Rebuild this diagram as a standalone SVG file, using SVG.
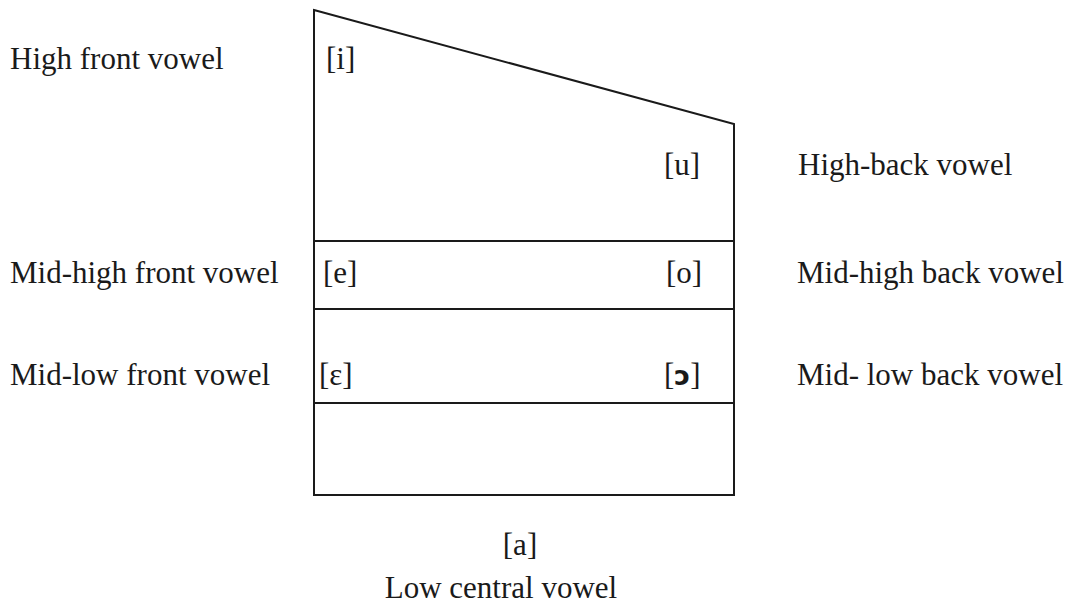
<svg xmlns="http://www.w3.org/2000/svg" width="1068" height="605" viewBox="0 0 1068 605">
<style>
.t{font-family:'Liberation Serif','DejaVu Serif',serif;font-size:31px;fill:#1a1a1a}
.ln{stroke:#1a1a1a;stroke-width:2;fill:none}
</style>
<rect width="1068" height="605" fill="#fff"/>
<g id="chart">
<path class="ln" d="M314,10 L734,124 L734,495 L314,495 Z"/>
<line class="ln" x1="314" y1="241" x2="734" y2="241"/>
<line class="ln" x1="314" y1="309" x2="734" y2="309"/>
<line class="ln" x1="314" y1="403" x2="734" y2="403"/>
</g>
<g class="t" font-family="Liberation Serif, serif">
<g id="high-front"><text x="10" y="69">High front vowel</text><text x="326" y="69">[i]</text></g>
<g id="high-back"><text x="664" y="175">[u]</text><text x="798" y="175">High-back vowel</text></g>
<g id="mid-high-front"><text x="10" y="283">Mid-high front vowel</text><text x="323" y="283">[e]</text></g>
<g id="mid-high-back"><text x="666" y="283">[o]</text><text x="797" y="283">Mid-high back vowel</text></g>
<g id="mid-low-front"><text x="10" y="385">Mid-low front vowel</text><text x="319" y="385">[ε]</text></g>
<g id="mid-low-back"><text x="664" y="385">[<tspan font-family="DejaVu Sans" font-weight="bold" font-size="27">ɔ</tspan>]</text><text x="797" y="385">Mid- low back vowel</text></g>
<g id="low-central"><text x="520" y="555" text-anchor="middle">[a]</text><text x="501" y="598" text-anchor="middle">Low central vowel</text></g>
</g>
</svg>
